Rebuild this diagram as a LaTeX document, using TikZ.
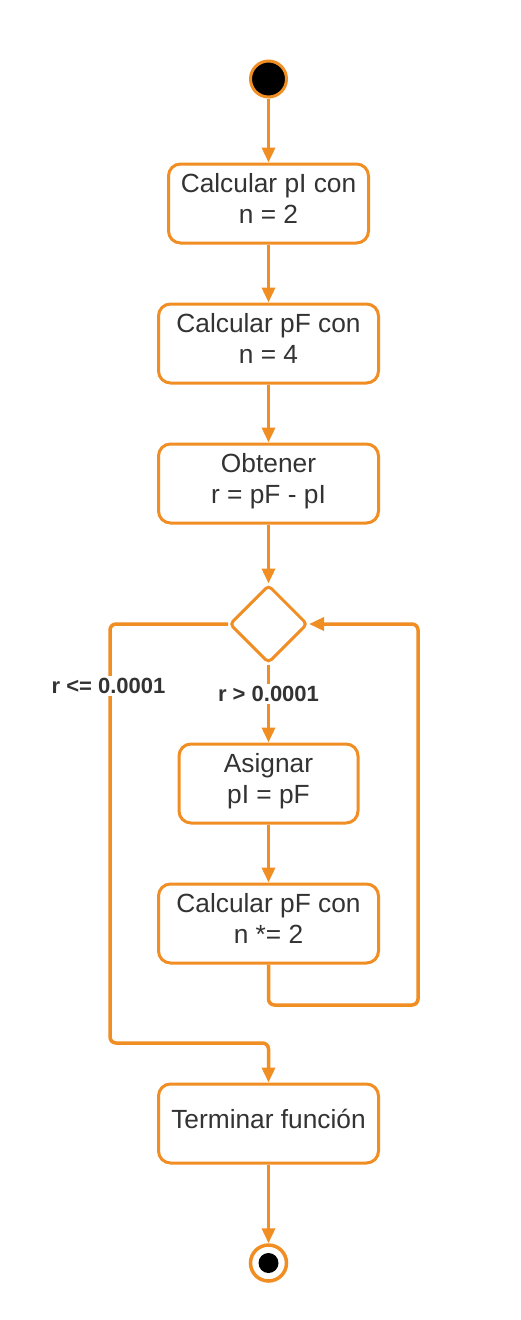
\documentclass[tikz,border=0pt]{standalone}
\usepackage{fontspec}
\setmainfont{Liberation Sans}
\usetikzlibrary{arrows.meta,shapes.geometric}
\definecolor{org}{RGB}{240,141,35}
\definecolor{txt}{RGB}{51,51,51}
\begin{document}
\begin{tikzpicture}[x=1pt,y=-1pt,
  act/.style={draw=org,line width=3pt,rounded corners=12pt,fill=white,minimum height=79pt,align=center,text=txt,font=\fontsize{26.3}{31}\selectfont,inner sep=0pt,text depth=9.5pt},
  conn/.style={draw=org,line width=3.5pt,-{Triangle[length=15pt,width=13pt]},rounded corners=6pt},
  lbl/.style={fill=white,text=txt,font=\bfseries\fontsize{22}{26}\selectfont,inner sep=2pt}]
\useasboundingbox (0,0) rectangle (521,1320);
\node[circle,fill=black,draw=org,line width=3pt,minimum size=36pt,inner sep=0pt] (start) at (268.5,79) {};
\node[act,minimum width=200pt] (b1) at (268.5,203.5) {Calcular pI con\\n = 2};
\node[act,minimum width=220pt] (b2) at (268.5,343.5) {Calcular pF con\\n = 4};
\node[act,minimum width=220pt] (b3) at (268.5,483.5) {Obtener\\r = pF - pI};
\node[diamond,draw=org,line width=3pt,rounded corners=4pt,minimum size=78pt,inner sep=0pt] (dia) at (268.5,624) {};
\node[act,minimum width=179pt] (b4) at (268.5,783.5) {Asignar\\pI = pF};
\node[act,minimum width=220pt] (b5) at (268.5,923.5) {Calcular pF con\\n *= 2};
\node[act,minimum width=220pt] (b6) at (268.5,1123.5) {Terminar función};
\node[circle,draw=org,line width=3.5pt,fill=white,minimum size=36pt,inner sep=0pt] (end) at (268.5,1263) {};
\node[circle,fill=black,minimum size=20pt,inner sep=0pt] (endin) at (268.5,1263) {};
\coordinate (l1) at (110,624);
\coordinate (l2) at (110,1043);
\coordinate (l3) at (268.5,1043);
\coordinate (r1) at (268.5,1005);
\coordinate (r2) at (418,1005);
\coordinate (r3) at (418,624);
\draw[conn] (start) -- (b1);
\draw[conn] (b1) -- (b2);
\draw[conn] (b2) -- (b3);
\draw[conn] (b3) -- (dia.north);
\draw[conn] (dia.south) -- (b4.north);
\draw[conn] (b4) -- (b5);
\draw[conn] (dia.west) -- (l1) -- (l2) -- (l3) -- (b6.north);
\draw[conn] (b5.south) -- (r1) -- (r2) -- (r3) -- (dia.east);
\draw[conn] (b6) -- (end);
\node[lbl] (lab1) at (108.5,686) {r <= 0.0001};
\node[lbl] (lab2) at (268.5,694) {r > 0.0001};
\end{tikzpicture}
\end{document}
